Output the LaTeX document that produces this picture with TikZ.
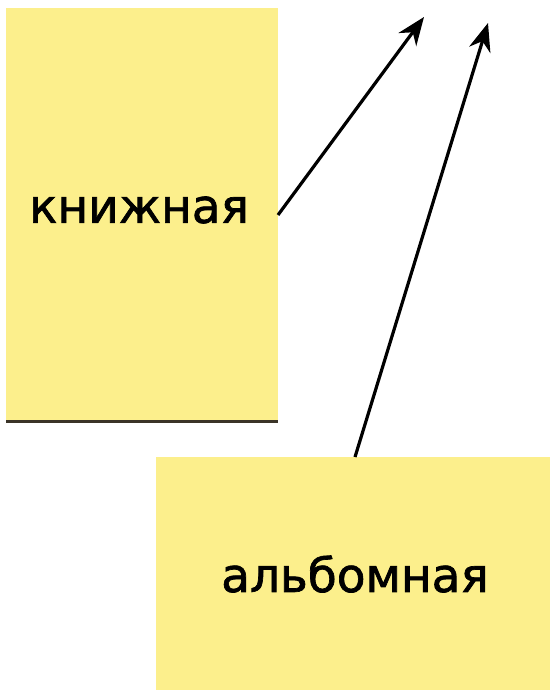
\documentclass[tikz,border=0pt]{standalone}
\usepackage{fontspec}
\setmainfont{DejaVu Sans}
\newfontfamily\cardfont[FakeBold=1.5]{DejaVu Sans}
\usetikzlibrary{arrows.meta}
\definecolor{sticky}{HTML}{FCEF8C}
\definecolor{edge}{HTML}{3B3428}
\begin{document}
\begin{tikzpicture}[x=1pt,y=-1pt,
  card/.style={fill=sticky,draw=none,inner sep=0pt},
  lbl/.style={font=\cardfont\fontsize{47}{52}\selectfont,text=black},
  arr/.style={line width=3.2pt,-{Stealth[length=28pt,width=22pt,inset=9pt]}}]
\useasboundingbox (0,0) rectangle (550,692);
\fill[white] (0,0) rectangle (550,692);
\node[card,minimum width=272pt,minimum height=413pt,anchor=north west] (portrait) at (6,8) {};
\draw[edge,line width=2.5pt] (portrait.south west) -- (portrait.south east);
\node[card,minimum width=394pt,minimum height=233pt,anchor=north west] (landscape) at (156,457) {};
\node[lbl] (t1) at (139,210) {книжная};
\node[lbl] (t2) at (355,574) {альбомная};
\coordinate (e1) at (278,215);
\coordinate (h1) at (424,17);
\coordinate (e2) at (355,457);
\coordinate (h2) at (488,23);
\draw[arr] (e1) -- (h1);
\draw[arr] (e2) -- (h2);
\end{tikzpicture}
\end{document}
